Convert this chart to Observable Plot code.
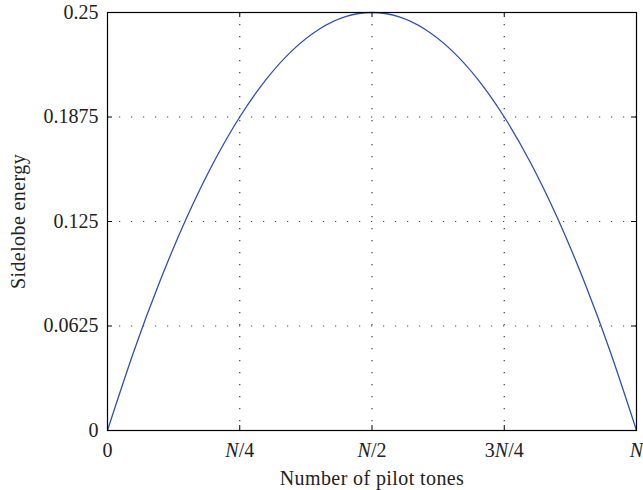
<!DOCTYPE html>
<html>
<head>
<meta charset="utf-8">
<script src="https://cdn.jsdelivr.net/npm/d3@7"></script>
<script src="https://cdn.jsdelivr.net/npm/@observablehq/plot@0.6"></script>
<style>
  html, body { margin: 0; padding: 0; background: #fff; }
  #chart svg { display: block; }
</style>
</head>
<body>
<div id="chart"></div>
<script>
// Fraction of N pilot tones (x) and sidelobe energy (y)
const pilotFraction = [0, 0.05, 0.1, 0.15, 0.2, 0.25, 0.3, 0.35, 0.4, 0.45, 0.5,
                       0.55, 0.6, 0.65, 0.7, 0.75, 0.8, 0.85, 0.9, 0.95, 1];
const sidelobeEnergy = [0, 0.0475, 0.09, 0.1275, 0.16, 0.1875, 0.21, 0.2275, 0.24, 0.2475, 0.25,
                        0.2475, 0.24, 0.2275, 0.21, 0.1875, 0.16, 0.1275, 0.09, 0.0475, 0];
const xTicks = [0, 0.25, 0.5, 0.75, 1];
const xTickLabels = ["0", "N/4", "N/2", "3N/4", "N"];
const yTicks = [0, 0.0625, 0.125, 0.1875, 0.25];
const yTickLabels = ["0", "0.0625", "0.125", "0.1875", "0.25"];
const xLabel = "Number of pilot tones";
const yLabel = "Sidelobe energy";

const data = pilotFraction.map((x, i) => ({x, y: sidelobeEnergy[i]}));

const W = 643, H = 490;
const mL = 107, mR = 7, mT = 12, mB = 60;
const plotW = W - mL - mR, plotH = H - mT - mB;
const font = "'Liberation Serif', 'DejaVu Serif', serif";
const textColor = "#222";
const fs = 20;

const chart = Plot.plot({
  width: W,
  height: H,
  marginLeft: mL,
  marginRight: mR,
  marginTop: mT,
  marginBottom: mB,
  style: {fontFamily: font, fontSize: fs + "px", color: textColor, background: "#fff"},
  x: {domain: [0, 1]},
  y: {domain: [0, 0.25]},
  marks: [
    // dotted grid
    Plot.ruleX(xTicks.slice(1, -1), {stroke: "#000", strokeOpacity: 0.75, strokeWidth: 1.2, strokeDasharray: "1.2,10.8"}),
    Plot.ruleY(yTicks.slice(1, -1), {stroke: "#000", strokeOpacity: 0.75, strokeWidth: 1.2, strokeDasharray: "1.2,10.8"}),
    // curve
    Plot.line(data, {x: "x", y: "y", stroke: "#2f4fb5", strokeWidth: 1.3, curve: "natural"}),
    // frame
    Plot.frame({stroke: "#000", strokeWidth: 1.2}),
    // inward ticks
    Plot.tickX(xTicks, {x: d => d, stroke: "#000", insetTop: plotH - 5}),
    Plot.tickX(xTicks, {x: d => d, stroke: "#000", insetBottom: plotH - 5}),
    Plot.tickY(yTicks, {y: d => d, stroke: "#000", insetRight: plotW - 5}),
    Plot.tickY(yTicks, {y: d => d, stroke: "#000", insetLeft: plotW - 5}),
    // tick labels
    Plot.axisX(xTicks, {anchor: "bottom", tickSize: 0, tickPadding: 12, label: null,
      tickFormat: (d, i) => xTickLabels[i], fill: textColor, fontSize: fs}),
    Plot.axisY(yTicks, {anchor: "left", tickSize: 0, tickPadding: 9, label: null,
      tickFormat: (d, i) => yTickLabels[i], fill: textColor, fontSize: fs}),
    // axis titles
    Plot.text([xLabel], {text: d => d, frameAnchor: "bottom", dy: 48, fill: textColor, fontSize: fs,
      textAnchor: "middle", lineAnchor: "middle"}),
    Plot.text([yLabel], {text: d => d, frameAnchor: "left", dx: -89, rotate: -90, fill: textColor, fontSize: fs,
      textAnchor: "middle", lineAnchor: "middle"})
  ]
});

// Italicise the N in x tick labels
d3.select(chart).selectAll('g[aria-label="x-axis tick label"] text').each(function () {
  const t = this.textContent;
  if (t.includes("N")) {
    const parts = t.split("N");
    const sel = d3.select(this);
    sel.text(null);
    sel.append("tspan").text(parts[0]);
    sel.append("tspan").attr("font-style", "italic").text("N");
    sel.append("tspan").text(parts[1]);
  }
});
// slight tracking on axis titles to match the wider reference face
d3.select(chart).selectAll('g[aria-label="text"] text').attr("letter-spacing", "0.4px");

document.getElementById("chart").appendChild(chart);
</script>
</body>
</html>
